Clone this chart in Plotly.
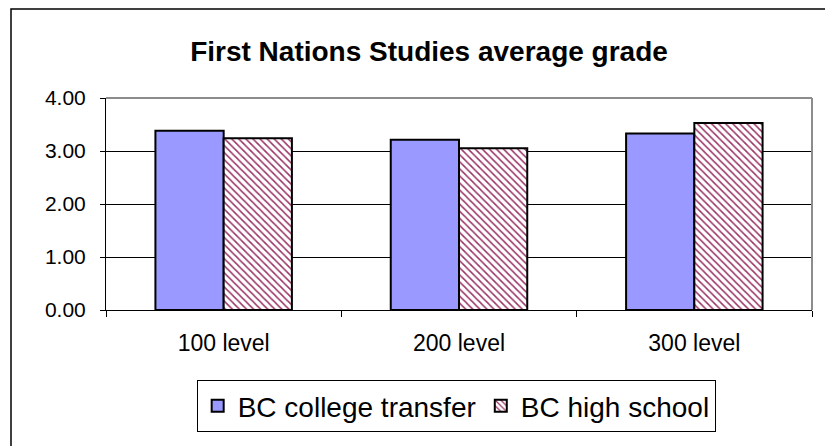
import plotly.graph_objects as go

categories = ["100 level", "200 level", "300 level"]
college_transfer = [3.38, 3.21, 3.33]
high_school = [3.24, 3.05, 3.53]
series_names = ["BC college transfer", "BC high school"]
title_text = "First Nations Studies average grade"

W, H = 825, 438  # page body adds an 8px margin

fig = go.Figure()
fig.add_trace(go.Bar(
    x=categories, y=college_transfer, name=series_names[0],
    marker=dict(color="#9999FF", line=dict(color="black", width=2)),
))
fig.add_trace(go.Bar(
    x=categories, y=high_school, name=series_names[1],
    marker=dict(color="white", line=dict(color="black", width=2),
                pattern=dict(shape="\\", fgcolor="#993366", bgcolor="white",
                             size=5, solidity=0.3, fillmode="replace")),
))

fig.update_layout(
    width=W, height=H,
    margin=dict(l=98, r=21, t=90, b=136),
    paper_bgcolor="white", plot_bgcolor="white",
    barmode="group", bargap=0.42, bargroupgap=0,
    font=dict(family="Arial, Liberation Sans, sans-serif", color="black"),
    title=dict(text="<b>" + title_text + "</b>", x=421/W, xanchor="center",
               y=1 - 43/H, yanchor="middle", xref="container", yref="container",
               font=dict(size=28, color="black")),
    showlegend=True,
    legend=dict(orientation="h", x=0.496, xanchor="center", y=-0.453, yanchor="middle",
                bordercolor="black", borderwidth=1, bgcolor="white",
                font=dict(size=28, color="black"), itemwidth=30, tracegroupgap=0),
    xaxis=dict(showline=True, linecolor="black", linewidth=1, ticks="outside",
               tickson="boundaries", ticklen=6, tickcolor="black",
               tickfont=dict(size=23), showgrid=False, ticklabelstandoff=12),
    yaxis=dict(range=[0, 4], dtick=1, tickformat=".2f", showline=True, linecolor="black",
               linewidth=1, ticks="outside", ticklen=5, tickcolor="black",
               gridcolor="black", gridwidth=1, tickfont=dict(size=21),
               ticklabelstandoff=10, zeroline=False),
    shapes=[
        dict(type="line", xref="paper", yref="paper", x0=0, x1=1, y0=1, y1=1,
             line=dict(color="#8c8c8c", width=2), layer="above"),
        dict(type="line", xref="paper", yref="paper", x0=1, x1=1, y0=0, y1=1,
             line=dict(color="#8c8c8c", width=2), layer="above"),
        dict(type="rect", xref="paper", yref="paper",
             x0=(11-106)/706, x1=(840-106)/706, y0=(310-450)/212, y1=(310-9)/212,
             line=dict(color="black", width=1.5), layer="below"),
    ],
)

fig.write_html("out.html")
